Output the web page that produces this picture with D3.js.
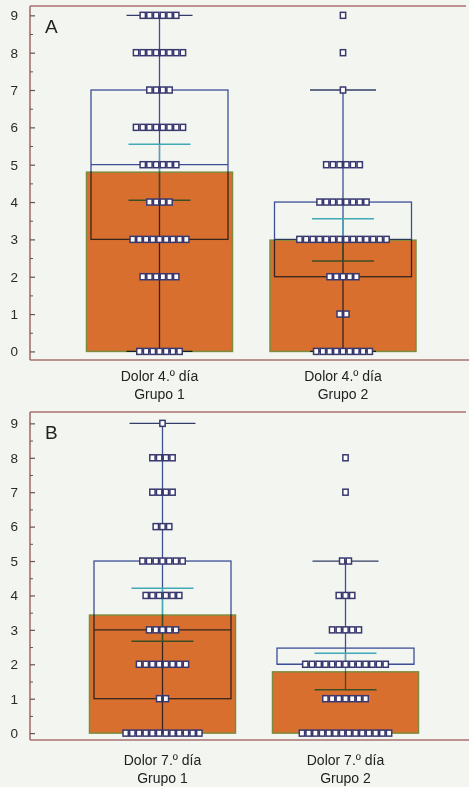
<!DOCTYPE html>
<html>
<head>
<meta charset="utf-8">
<script src="https://cdn.jsdelivr.net/npm/d3@7"></script>
<style>
body{margin:0;background:#f4f6f1}
svg{display:block;font-family:"Liberation Sans",Arial,sans-serif}
.blend{mix-blend-mode:multiply}
</style>
</head>
<body>
<svg></svg>
<script>
var panelNames = ["A","B"]
var groupNames = ["Grupo 1","Grupo 2"]
var dayNames = ["Dolor 4.º día","Dolor 7.º día"]
var yTicks = [0,1,2,3,4,5,6,7,8,9]
var yMinor = [0.5,1.5,2.5,3.5,4.5,5.5,6.5,7.5,8.5]

// how many patients at each pain score 0..9
var countsA1 = [7,0,6,9,4,6,8,4,8,6]
var countsA2 = [9,2,5,14,8,6,0,1,1,1]
var countsB1 = [12,2,8,5,6,7,3,4,4,1]
var countsB2 = [14,7,13,5,3,2,0,1,1,0]

// box plot stats, [Grupo 1, Grupo 2]
var q1A = [3,2], medA = [5,3], q3A = [7,4], loA = [0,0], hiA = [9,7]
var q1B = [1,2], medB = [3,2], q3B = [5,2.47], loB = [0,2], hiB = [9,5]

// mean (bar) and its interval
var meanA = [4.80,2.98], ciLoA = [4.05,2.42], ciHiA = [5.55,3.55]
var meanB = [3.43,1.78], ciLoB = [2.67,1.26], ciHiB = [4.21,2.32]

var screen = {width:469,height:787}
var axisX = 30

var layout = [
    {top:6, bottom:360, lo:-0.23, hi:9.25, xs:[159.5,343], labelY:381},
    {top:412, bottom:740, lo:-0.2, hi:9.33, xs:[162.5,345.5], labelY:765}
]

var svg = d3.select("svg")
    .attr("width",screen.width)
    .attr("height",screen.height)

svg.append("rect")
    .attr("width",screen.width)
    .attr("height",screen.height)
    .attr("fill","#f3f6f0")

var panelData = [
    {counts:[countsA1,countsA2], q1:q1A, med:medA, q3:q3A, lo:loA, hi:hiA, mean:meanA, ciLo:ciLoA, ciHi:ciHiA},
    {counts:[countsB1,countsB2], q1:q1B, med:medB, q3:q3B, lo:loB, hi:hiB, mean:meanB, ciLo:ciLoB, ciHi:ciHiB}
]

var drawPanel = function(p)
{
    var L = layout[p]
    var D = panelData[p]
    var g = svg.append("g").attr("id","panel"+panelNames[p])

    var yScale = d3.scaleLinear()
        .domain([L.lo,L.hi])
        .range([L.bottom,L.top])
    var xScale = d3.scalePoint()
        .domain(groupNames)
        .range(L.xs)

    // frame
    g.append("line").attr("x1",axisX).attr("x2",466).attr("y1",L.top).attr("y2",L.top)
        .attr("stroke","#a87070").attr("stroke-width",1.6)
    g.append("line").attr("x1",axisX).attr("x2",469).attr("y1",L.bottom).attr("y2",L.bottom)
        .attr("stroke","#a87070").attr("stroke-width",1.6)
    g.append("line").attr("x1",axisX).attr("x2",axisX).attr("y1",L.top).attr("y2",L.bottom)
        .attr("stroke","#a87070").attr("stroke-width",1.6)

    var yAxis = d3.axisLeft(yScale)
        .tickValues(yTicks)
        .tickSizeInner(-5)
        .tickSizeOuter(0)
        .tickPadding(12)
        .tickFormat(d3.format("d"))
    var ax = g.append("g")
        .attr("transform","translate("+axisX+",0)")
        .call(yAxis)
    ax.select(".domain").remove()
    ax.selectAll("line").attr("stroke","#6a5050").attr("stroke-width",1.2)
    ax.selectAll("text").attr("font-size",13.5).attr("fill","#2a2a2a")
        .attr("font-family","'Liberation Sans',Arial,sans-serif")

    var minor = g.append("g")
        .attr("transform","translate("+axisX+",0)")
        .call(d3.axisLeft(yScale).tickValues(yMinor).tickSizeInner(-3).tickSizeOuter(0).tickFormat(""))
    minor.select(".domain").remove()
    minor.selectAll("line").attr("stroke","#6a5050").attr("stroke-width",1)

    // mean bars
    g.selectAll(".bar")
        .data(groupNames)
        .enter()
        .append("rect")
        .attr("class","bar")
        .attr("x",function(d){return xScale(d)-73})
        .attr("width",146)
        .attr("y",function(d,i){return yScale(D.mean[i])})
        .attr("height",function(d,i){return yScale(0)-yScale(D.mean[i])})
        .attr("fill","#d86f2e")
        .attr("stroke","#7e8b3e")
        .attr("stroke-width",1.5)

    var lines = g.append("g").attr("class","blend")

    groupNames.forEach(function(name,i){
        var cx = xScale(name)
        // whisker
        lines.append("line")
            .attr("x1",cx).attr("x2",cx)
            .attr("y1",yScale(D.lo[i])).attr("y2",yScale(D.hi[i]))
            .attr("stroke","#3f52a0").attr("stroke-width",1.3)
        ;[D.lo[i],D.hi[i]].forEach(function(v){
            lines.append("line")
                .attr("x1",cx-33).attr("x2",cx+33)
                .attr("y1",yScale(v)).attr("y2",yScale(v))
                .attr("stroke","#34406e").attr("stroke-width",1.3)
        })
        // box
        lines.append("rect")
            .attr("x",cx-68.5).attr("width",137)
            .attr("y",yScale(D.q3[i]))
            .attr("height",yScale(D.q1[i])-yScale(D.q3[i]))
            .attr("fill","none")
            .attr("stroke","#3f52a0").attr("stroke-width",1.3)
        lines.append("line")
            .attr("x1",cx-68.5).attr("x2",cx+68.5)
            .attr("y1",yScale(D.med[i])).attr("y2",yScale(D.med[i]))
            .attr("stroke","#3f52a0").attr("stroke-width",1.3)
        // interval of the mean
        lines.append("line")
            .attr("x1",cx).attr("x2",cx)
            .attr("y1",yScale(D.ciLo[i])).attr("y2",yScale(D.ciHi[i]))
            .attr("stroke","#45b0c0").attr("stroke-width",1.3)
        ;[D.ciLo[i],D.ciHi[i]].forEach(function(v){
            lines.append("line")
                .attr("x1",cx-31).attr("x2",cx+31)
                .attr("y1",yScale(v)).attr("y2",yScale(v))
                .attr("stroke","#45b0c0").attr("stroke-width",1.5)
        })
    })

    // individual patients as squares
    var pitch = 6.7
    groupNames.forEach(function(name,i){
        var cx = xScale(name)
        var pts = []
        D.counts[i].forEach(function(n,v){
            for(var k=0;k<n;k++){ pts.push({v:v,k:k,n:n}) }
        })
        g.selectAll(".pt"+i)
            .data(pts)
            .enter()
            .append("rect")
            .attr("class","pt"+i)
            .attr("x",function(d){return cx+(d.k-(d.n-1)/2)*pitch-pitch/2+0.7})
            .attr("y",function(d){return yScale(d.v)-3})
            .attr("width",pitch-1.4)
            .attr("height",6)
            .attr("fill","#ffffff")
            .attr("stroke","#38386f")
            .attr("stroke-width",1.5)
    })

    // panel letter
    g.append("text")
        .attr("x",45)
        .attr("y",L.top+27)
        .attr("font-size",19)
        .attr("fill","#222")
        .text(panelNames[p])

    // category labels
    groupNames.forEach(function(name,i){
        var t = g.append("text")
            .attr("text-anchor","middle")
            .attr("font-size",14)
            .attr("fill","#222")
        t.append("tspan").attr("x",xScale(name)).attr("y",L.labelY).text(dayNames[p])
        t.append("tspan").attr("x",xScale(name)).attr("y",L.labelY+18).text(name)
    })
}

drawPanel(0)
drawPanel(1)
</script>
</body>
</html>
